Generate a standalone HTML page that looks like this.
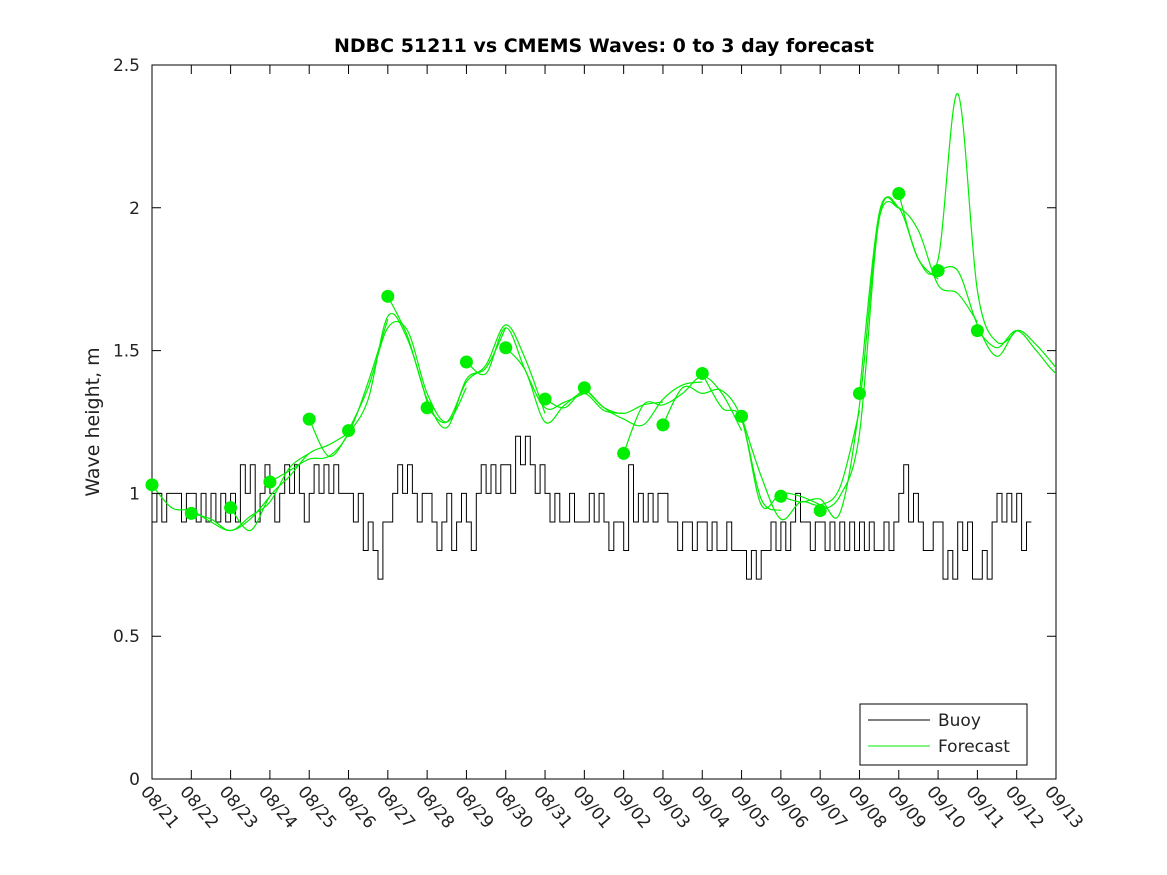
<!DOCTYPE html>
<html><head><meta charset="utf-8"><style>
body{margin:0;background:#fff;}
svg{display:block;font-family:"DejaVu Sans","Liberation Sans",sans-serif;}
</style></head><body>
<svg id="chart" width="1167" height="875">
<rect x="0" y="0" width="1167" height="875" fill="#fff"/>
<defs><clipPath id="clip"><rect x="152" y="65" width="904" height="714"/></clipPath></defs>
<g id="plot"></g>
<text x="604" y="52" text-anchor="middle" font-size="19" font-weight="bold" fill="#000">NDBC 51211 vs CMEMS Waves: 0 to 3 day forecast</text>
<text transform="translate(99,422) rotate(-90)" text-anchor="middle" font-size="19" fill="#222">Wave height, m</text>
<g>
<rect x="860" y="704" width="167" height="61" fill="#fff" stroke="#000" stroke-width="1"/>
<line x1="868" y1="720" x2="930" y2="720" stroke="#000" stroke-width="1"/>
<text x="938" y="726" font-size="17" fill="#222">Buoy</text>
<line x1="868" y1="746" x2="930" y2="746" stroke="#00ee00" stroke-width="1"/>
<text x="938" y="752" font-size="17" fill="#222">Forecast</text>
</g>
</svg>
<script>
const dayLabels=["08/21","08/22","08/23","08/24","08/25","08/26","08/27","08/28","08/29","08/30","08/31","09/01","09/02","09/03","09/04","09/05","09/06","09/07","09/08","09/09","09/10","09/11","09/12","09/13"];
const yTicks=[0,0.5,1,1.5,2,2.5];
const yTickLabels=["0","0.5","1","1.5","2","2.5"];
// buoy values, 8 per day (3-hourly) from 08/21
const buoyValues=[
0.9,1.0,0.9,1.0,1.0,1.0,0.9,1.0, 1.0,0.9,1.0,0.9,1.0,0.9,1.0,0.9, 1.0,0.9,1.1,1.0,1.1,0.9,1.0,1.1,
1.0,0.9,1.0,1.1,1.0,1.1,1.0,0.9, 1.0,1.1,1.0,1.1,1.0,1.1,1.0,1.0, 1.0,0.9,1.0,0.8,0.9,0.8,0.7,0.9,
0.9,1.0,1.1,1.0,1.1,1.0,0.9,1.0, 1.0,0.9,0.8,0.9,1.0,0.8,0.9,1.0, 0.9,0.8,1.0,1.1,1.0,1.1,1.0,1.1,
1.1,1.0,1.2,1.1,1.2,1.1,1.0,1.1, 1.0,0.9,1.0,0.9,0.9,1.0,0.9,0.9, 0.9,1.0,0.9,1.0,0.9,0.8,0.9,0.9,
0.8,1.1,0.9,1.0,0.9,1.0,0.9,1.0, 1.0,0.9,0.9,0.8,0.9,0.9,0.8,0.9, 0.9,0.8,0.9,0.8,0.8,0.9,0.8,0.8,
0.8,0.7,0.8,0.7,0.8,0.8,0.9,0.8, 0.9,0.8,0.9,1.0,0.9,0.9,0.8,0.9, 0.9,0.8,0.9,0.8,0.9,0.8,0.9,0.8,
0.9,0.8,0.9,0.8,0.8,0.9,0.8,0.9, 1.0,1.1,0.9,1.0,0.9,0.8,0.8,0.9, 0.9,0.7,0.8,0.7,0.9,0.8,0.9,0.7,
0.7,0.8,0.7,0.9,1.0,0.9,1.0,0.9, 1.0,0.8,0.9];
// forecast base curve, 2 per day from 08/21
const baseCurve=[1.0,0.97,0.93,0.90,0.89,0.90,0.97,1.06,1.12,1.15,1.18,1.35,1.58,1.52,1.35,1.28,1.37,1.42,1.55,1.45,1.30,1.28,1.35,1.32,1.26,1.28,1.31,1.35,1.37,1.33,1.22,1.02,0.97,0.95,0.94,0.97,1.25,1.88,1.95,1.86,1.78,1.70,1.57,1.48,1.52,1.48,1.42];
// forecast run start values (dots), one per day from 08/21
const runStarts=[1.03,0.93,0.95,1.04,1.26,1.22,1.69,1.30,1.46,1.51,1.33,1.37,1.14,1.24,1.42,1.27,0.99,0.94,1.35,2.05,1.78,1.57];
// per-run offsets relative to base curve (half-day steps after start, 3 days)
const runOffsets=[
[0,-0.02,0.01,0.00,-0.02,0.01,0.02],[0,0.01,-0.02,0.02,0.00,0.03,0.02],[0,-0.03,0.02,0.00,0.02,0.02,0.03],[0,0.02,0.00,-0.02,0.03,0.04,0.03],
[0,-0.02,0.03,-0.02,0.04,0.02,-0.03],[0,0.02,0.00,0.05,0.00,-0.03,0.00],[0,0.03,-0.02,-0.05,0.03,0.02,0.03],[0,-0.03,0.02,0.03,0.04,0.02,-0.02],
[0,0.00,0.03,-0.02,0.00,0.04,0.00],[0,-0.02,-0.05,0.03,0.00,-0.03,0.02],[0,0.02,0.01,-0.02,0.02,0.03,0.01],[0,-0.02,0.00,-0.04,0.02,0.03,0.02],
[0,0.03,0.00,0.00,0.04,0.02,0.00],[0,0.02,-0.02,0.03,0.04,-0.04,-0.03],[0,-0.03,0.04,-0.06,0.03,0.04,0.02],[0,0.04,-0.06,0.02,0.02,0.05,0.04],
[0,0.02,0.04,-0.04,0.06,0.08,0.05],[0,0.02,-0.04,0.08,0.05,-0.04,-0.03],[0,0.10,0.05,0.06,-0.05,0.00,0.03],[0,-0.04,0.04,0.70,0.14,0.05,0.05],
[0,0.08,0.02,0.00,0.05,0.04,0.02],[0,0.03,0.05,0.02,0.00,-0.02,0.00]];
const X0=152,X1=1056,Y0=779,Y1=65;
const xs=d=>X0+d*(X1-X0)/23;
const ys=v=>Y0-v*(Y0-Y1)/2.5;
const NS="http://www.w3.org/2000/svg";
const plot=document.getElementById('plot');
function mk(t,a,parent){const e=document.createElementNS(NS,t);for(const k in a)e.setAttribute(k,a[k]);(parent||plot).appendChild(e);return e;}
let r=mk('rect',{x:X0,y:Y1,width:X1-X0,height:Y0-Y1,fill:'#fff',stroke:'#000','stroke-width':1});


const clipG=mk('g',{'clip-path':'url(#clip)'});
yTicks.forEach((v,i)=>{
 const y=ys(v);
 let t=mk('path',{d:`M${X0},${y}h9M${X1},${y}h-9`,stroke:'#000','stroke-width':1});
 
 
 let l=mk('text',{x:X0-12,y:y+6,'text-anchor':'end','font-size':17,fill:'#222'});
 l.textContent=yTickLabels[i];
 
 
});
dayLabels.forEach((s,i)=>{
 const x=xs(i);
 let t=mk('path',{d:`M${x},${Y0}v-9M${x},${Y1}v9`,stroke:'#000','stroke-width':1});
 
 
 let l=mk('text',{transform:`translate(${x-12},${Y0+13}) rotate(50)`,'font-size':17,fill:'#222'});
 l.textContent=s;
 
 
});
let d='';
buoyValues.forEach((v,i)=>{const xa=xs(i/8),xb=xs((i+1)/8),y=ys(v);d+=(i?'L':'M')+xa.toFixed(1)+','+y.toFixed(1)+'L'+xb.toFixed(1)+','+y.toFixed(1);});
let b=mk('path',{d:d,fill:'none',stroke:'#000','stroke-width':1},clipG);


function smooth(pts){
 let s='M'+pts[0][0]+','+pts[0][1];
 for(let i=0;i<pts.length-1;i++){
  const p0=pts[Math.max(0,i-1)],p1=pts[i],p2=pts[i+1],p3=pts[Math.min(pts.length-1,i+2)];
  const c1=[p1[0]+(p2[0]-p0[0])/6,p1[1]+(p2[1]-p0[1])/6],c2=[p2[0]-(p3[0]-p1[0])/6,p2[1]-(p3[1]-p1[1])/6];
  s+=`C${c1[0].toFixed(1)},${c1[1].toFixed(1)} ${c2[0].toFixed(1)},${c2[1].toFixed(1)} ${p2[0].toFixed(1)},${p2[1].toFixed(1)}`;
 }
 return s;
}
runStarts.forEach((s,r)=>{
 const offs=runOffsets[r];const pts=[];
 for(let k=0;k<7;k++){
  const idx=Math.min(r*2+k,baseCurve.length-1);
  const v=k===0?s:baseCurve[idx]+offs[k];
  pts.push([xs(r+k/2),ys(v)]);
 }
 let p=mk('path',{d:smooth(pts),fill:'none',stroke:'#00ee00','stroke-width':1.2,'stroke-linejoin':'round'},clipG);
 
 
});
runStarts.forEach((s,r)=>{
 let c=mk('circle',{cx:xs(r),cy:ys(s),r:6.5,fill:'#00ee00'});
 
 
});
</script>
</body></html>
